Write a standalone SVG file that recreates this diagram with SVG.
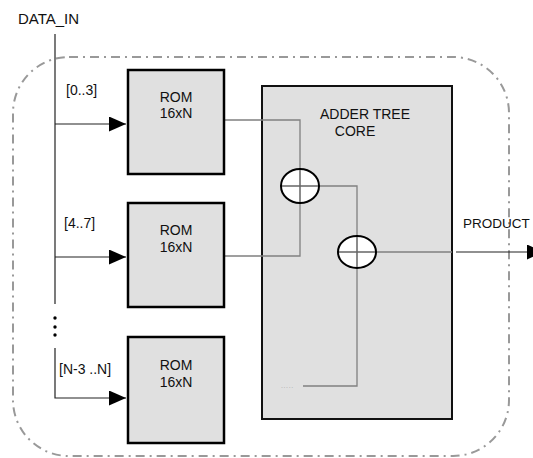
<svg xmlns="http://www.w3.org/2000/svg" width="533" height="458" viewBox="0 0 533 458">
<style>
text{font-family:"Liberation Sans",Arial,sans-serif;font-size:14px;fill:#111}
.box{fill:#e0e0e0;stroke:#000;stroke-width:2.5}
.core{fill:#e0e0e0;stroke:#111;stroke-width:2}
.sum{fill:#fff;stroke:#000;stroke-width:2}
.plus{stroke:#666;stroke-width:1.5;fill:none}
.wire{stroke:#808080;stroke-width:1.3;fill:none}
.bus{stroke:#222;stroke-width:1.2;fill:none}
.frame{fill:none;stroke:#999;stroke-width:2;stroke-dasharray:9 5 2 5}
</style>
<defs>
<marker id="arr" markerWidth="17" markerHeight="15" refX="17" refY="7.5" orient="auto" markerUnits="userSpaceOnUse">
<path d="M0,0 L17,7.5 L0,15 z" fill="#000"/>
</marker>
</defs>
<rect class="frame" x="13" y="57" width="496" height="399" rx="56" ry="56"/>
<text x="18" y="24" style="font-size:15px">DATA_IN</text>
<g id="core">
<rect class="core" x="262" y="86" width="190" height="333"/>
<text x="365" y="119" text-anchor="middle">ADDER TREE</text>
<text x="355" y="136" text-anchor="middle">CORE</text>
</g>
<g id="connectors">
<path class="bus" d="M55 34 V304"/>
<path class="bus" d="M55 348 V398 H126" marker-end="url(#arr)"/>
<path class="bus" d="M55 124 H126" marker-end="url(#arr)"/>
<path class="bus" d="M55 257 H126" marker-end="url(#arr)"/>
<circle cx="55" cy="318" r="1.7" fill="#000"/>
<circle cx="55" cy="327" r="1.7" fill="#000"/>
<circle cx="55" cy="335" r="1.7" fill="#000"/>
<path class="wire" d="M224 120 H300 V169"/>
<path class="wire" d="M300 203 V256 H224"/>
<path class="wire" d="M319 186 H357 V236"/>
<path class="wire" d="M376 252 H452"/>
<path class="wire" d="M357 268 V386 H303"/>
<path class="bus" d="M456 252 H544" marker-end="url(#arr)"/>
</g>
<text x="66" y="95">[0..3]</text>
<text x="64" y="228">[4..7]</text>
<text x="59" y="374">[N-3 ..N]</text>
<text x="463" y="228" style="font-size:13.5px">PRODUCT</text>
<text x="281" y="388" style="font-size:7px;fill:#aaa;letter-spacing:0.6px">.....</text>
<g id="rom1">
<rect class="box" x="128" y="70" width="96" height="104"/>
<text x="176" y="102" text-anchor="middle">ROM</text>
<text x="176" y="118" text-anchor="middle">16xN</text>
</g>
<g id="rom2">
<rect class="box" x="128" y="203" width="96" height="104"/>
<text x="176" y="235" text-anchor="middle">ROM</text>
<text x="176" y="252" text-anchor="middle">16xN</text>
</g>
<g id="rom3">
<rect class="box" x="128" y="337" width="96" height="106"/>
<text x="176" y="370" text-anchor="middle">ROM</text>
<text x="176" y="387" text-anchor="middle">16xN</text>
</g>
<g id="sum1">
<ellipse class="sum" cx="300" cy="186" rx="19" ry="17"/>
<path class="plus" d="M282 186 H318 M300 170 V202"/>
</g>
<g id="sum2">
<ellipse class="sum" cx="357" cy="252" rx="19" ry="16"/>
<path class="plus" d="M339 252 H375 M357 237 V267"/>
</g>
</svg>
